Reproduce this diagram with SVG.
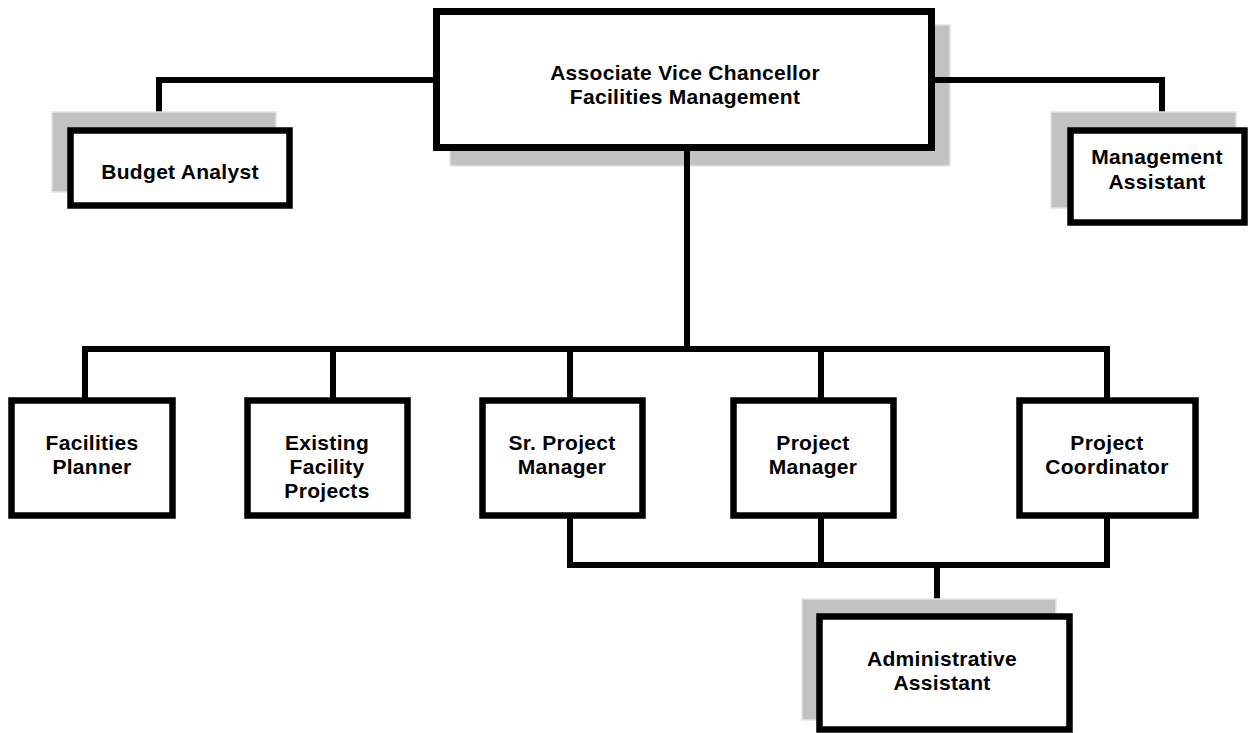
<svg xmlns="http://www.w3.org/2000/svg" width="1248" height="733" viewBox="0 0 1248 733">
<style>
.shadow{fill:#c2c2c2;stroke:#e4e4e4;stroke-width:1.5}
.box{fill:#ffffff;stroke:#000000;stroke-width:6.5}
.line{fill:none;stroke:#000000;stroke-width:6;stroke-linecap:square}
text{font-family:"Liberation Sans",Arial,sans-serif;font-weight:bold;font-size:21px;fill:#000000;text-anchor:middle;letter-spacing:0.3px}
</style>
<rect width="1248" height="733" fill="#ffffff"/>
<g id="avc-shadow">
<rect class="shadow" x="450" y="25" width="500" height="141"/>
</g>
<g id="connectors">
<polyline class="line" points="433,80 159,80 159,127"/>
<polyline class="line" points="935,80 1162,80 1162,127"/>
<line class="line" x1="687" y1="151" x2="687" y2="349"/>
<line class="line" x1="85" y1="349" x2="1107" y2="349"/>
<line class="line" x1="85" y1="349" x2="85" y2="397"/>
<line class="line" x1="333" y1="349" x2="333" y2="397"/>
<line class="line" x1="570" y1="349" x2="570" y2="397"/>
<line class="line" x1="821" y1="349" x2="821" y2="397"/>
<line class="line" x1="1107" y1="349" x2="1107" y2="397"/>
<polyline class="line" points="570,519 570,565 1107,565 1107,519"/>
<line class="line" x1="821" y1="519" x2="821" y2="565"/>
<line class="line" x1="937" y1="565" x2="937" y2="613"/>
</g>
<g id="avc">
<rect class="box" x="436.5" y="11.5" width="495" height="136" style="stroke-width:7"/>
<text x="685" y="80">Associate Vice Chancellor</text>
<text x="685" y="104">Facilities Management</text>
</g>
<g id="budget-analyst">
<rect class="shadow" x="52" y="112" width="224" height="80"/>
<rect class="box" x="70.5" y="130.5" width="219" height="75"/>
<text x="180" y="179">Budget Analyst</text>
</g>
<g id="management-assistant">
<rect class="shadow" x="1051" y="112" width="185" height="96"/>
<rect class="box" x="1070.5" y="130.5" width="174" height="92"/>
<text x="1157" y="164">Management</text>
<text x="1157" y="189">Assistant</text>
</g>
<g id="facilities-planner">
<rect class="box" x="11.5" y="400.5" width="161" height="115"/>
<text x="92" y="450">Facilities</text>
<text x="92" y="474">Planner</text>
</g>
<g id="existing-facility-projects">
<rect class="box" x="247.5" y="400.5" width="160" height="115"/>
<text x="327" y="450">Existing</text>
<text x="327" y="474">Facility</text>
<text x="327" y="498">Projects</text>
</g>
<g id="sr-project-manager">
<rect class="box" x="482.5" y="400.5" width="160" height="115"/>
<text x="562" y="450">Sr. Project</text>
<text x="562" y="474">Manager</text>
</g>
<g id="project-manager">
<rect class="box" x="733.5" y="400.5" width="160" height="115"/>
<text x="813" y="450">Project</text>
<text x="813" y="474">Manager</text>
</g>
<g id="project-coordinator">
<rect class="box" x="1019.5" y="400.5" width="176" height="115"/>
<text x="1107" y="450">Project</text>
<text x="1107" y="474">Coordinator</text>
</g>
<g id="administrative-assistant">
<rect class="shadow" x="802" y="599" width="254" height="121"/>
<rect class="box" x="819.5" y="616.5" width="250" height="113"/>
<text x="942" y="666">Administrative</text>
<text x="942" y="690">Assistant</text>
</g>
</svg>
